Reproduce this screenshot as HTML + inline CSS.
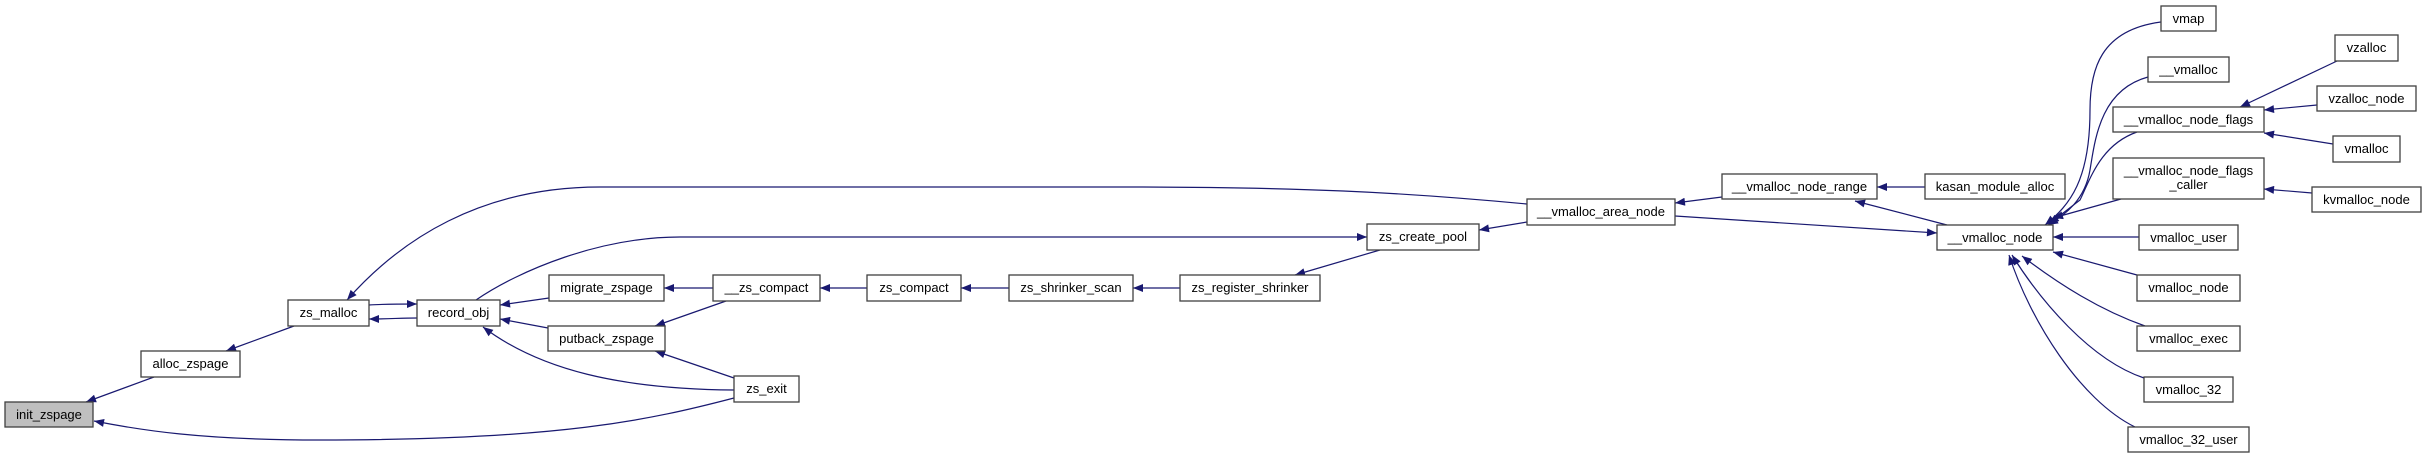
<!DOCTYPE html>
<html><head><meta charset="utf-8"><style>
html,body{margin:0;padding:0;background:#fff;}
svg{display:block;}
text{font-family:"Liberation Sans",Arial,sans-serif;font-size:13px;fill:#000;}
.n{fill:#fff;stroke:#404040;stroke-width:1.3;}
.e{fill:none;stroke:#191970;stroke-width:1.2;}
</style></head><body>
<svg width="2427" height="459" viewBox="0 0 2427 459" xmlns="http://www.w3.org/2000/svg">
<defs>
<marker id="a" viewBox="0 0 10 8" refX="10" refY="4" markerWidth="11" markerHeight="8" markerUnits="userSpaceOnUse" orient="auto">
<path d="M0,0 L10,4 L0,8 z" fill="#191970"/>
</marker>
</defs>
<g class="edges">
<path class="e" marker-end="url(#a)" d="M154,377 L86,402"/>
<path class="e" marker-end="url(#a)" d="M734,398 C650,420 560,440 320,440 C200,440 140,430 94,421"/>
<path class="e" marker-end="url(#a)" d="M294,326 L226,351"/>
<path class="e" marker-end="url(#a)" d="M1527,204 C1400,192 1300,187 1120,187 L600,187 C480,187 400,240 347,300"/>
<path class="e" marker-end="url(#a)" d="M369,305 C385,304 395,304 417,304"/>
<path class="e" marker-end="url(#a)" d="M417,318 C400,318 390,319 369,319"/>
<path class="e" marker-end="url(#a)" d="M476,300 C520,270 600,237 680,237 L1367,237"/>
<path class="e" marker-end="url(#a)" d="M549,298 L500,305"/>
<path class="e" marker-end="url(#a)" d="M548,328 L500,319"/>
<path class="e" marker-end="url(#a)" d="M734,390 C620,389 540,370 483,327"/>
<path class="e" marker-end="url(#a)" d="M713,288 L664,288"/>
<path class="e" marker-end="url(#a)" d="M726,301 L655,326"/>
<path class="e" marker-end="url(#a)" d="M734,378 L655,351"/>
<path class="e" marker-end="url(#a)" d="M867,288 L820,288"/>
<path class="e" marker-end="url(#a)" d="M1009,288 L961,288"/>
<path class="e" marker-end="url(#a)" d="M1180,288 L1133,288"/>
<path class="e" marker-end="url(#a)" d="M1380,250 L1295,275"/>
<path class="e" marker-end="url(#a)" d="M1527,222 L1479,230"/>
<path class="e" marker-end="url(#a)" d="M1722,197 L1675,203"/>
<path class="e" marker-end="url(#a)" d="M1675,216 L1937,233"/>
<path class="e" marker-end="url(#a)" d="M1925,187 L1877,187"/>
<path class="e" marker-end="url(#a)" d="M1947,225 L1855,201"/>
<path class="e" marker-end="url(#a)" d="M2161,22 C2100,30 2090,70 2090,110 C2090,180 2070,205 2045,225"/>
<path class="e" marker-end="url(#a)" d="M2148,77 C2100,90 2095,140 2090,170 C2085,200 2065,215 2048,225"/>
<path class="e" marker-end="url(#a)" d="M2137,132 C2100,145 2090,180 2080,200 L2049,224"/>
<path class="e" marker-end="url(#a)" d="M2121,199 L2053,218"/>
<path class="e" marker-end="url(#a)" d="M2139,237 L2053,237"/>
<path class="e" marker-end="url(#a)" d="M2137,275 L2053,252"/>
<path class="e" marker-end="url(#a)" d="M2145,326 C2100,310 2060,285 2022,256"/>
<path class="e" marker-end="url(#a)" d="M2144,378 C2090,360 2040,300 2012,255"/>
<path class="e" marker-end="url(#a)" d="M2135,427 C2080,400 2030,320 2009,255"/>
<path class="e" marker-end="url(#a)" d="M2337,61 L2240,107"/>
<path class="e" marker-end="url(#a)" d="M2317,105 L2264,110"/>
<path class="e" marker-end="url(#a)" d="M2333,144 L2264,133"/>
<path class="e" marker-end="url(#a)" d="M2312,193 L2264,189"/>
</g>
<g>
<rect x="5" y="402" width="88" height="25" style="fill:#bfbfbf;stroke:#404040;stroke-width:1.3"/><text x="49" y="419" text-anchor="middle">init_zspage</text>
<rect class="n" x="141" y="351" width="99" height="26"/><text x="190.5" y="368" text-anchor="middle">alloc_zspage</text>
<rect class="n" x="288" y="300" width="81" height="26"/><text x="328.5" y="317" text-anchor="middle">zs_malloc</text>
<rect class="n" x="417" y="300" width="83" height="26"/><text x="458.5" y="317" text-anchor="middle">record_obj</text>
<rect class="n" x="549" y="275" width="115" height="26"/><text x="606.5" y="292" text-anchor="middle">migrate_zspage</text>
<rect class="n" x="548" y="326" width="117" height="25"/><text x="606.5" y="343" text-anchor="middle">putback_zspage</text>
<rect class="n" x="713" y="275" width="107" height="26"/><text x="766.5" y="292" text-anchor="middle">__zs_compact</text>
<rect class="n" x="734" y="376" width="65" height="26"/><text x="766.5" y="393" text-anchor="middle">zs_exit</text>
<rect class="n" x="867" y="275" width="94" height="26"/><text x="914" y="292" text-anchor="middle">zs_compact</text>
<rect class="n" x="1009" y="275" width="124" height="26"/><text x="1071" y="292" text-anchor="middle">zs_shrinker_scan</text>
<rect class="n" x="1180" y="275" width="140" height="26"/><text x="1250" y="292" text-anchor="middle">zs_register_shrinker</text>
<rect class="n" x="1367" y="224" width="112" height="26"/><text x="1423" y="241" text-anchor="middle">zs_create_pool</text>
<rect class="n" x="1527" y="199" width="148" height="26"/><text x="1601" y="216" text-anchor="middle">__vmalloc_area_node</text>
<rect class="n" x="1722" y="174" width="155" height="25"/><text x="1799.5" y="191" text-anchor="middle">__vmalloc_node_range</text>
<rect class="n" x="1925" y="174" width="140" height="25"/><text x="1995" y="191" text-anchor="middle">kasan_module_alloc</text>
<rect class="n" x="1937" y="225" width="116" height="25"/><text x="1995" y="242" text-anchor="middle">__vmalloc_node</text>
<rect class="n" x="2161" y="6" width="55" height="25"/><text x="2188.5" y="23" text-anchor="middle">vmap</text>
<rect class="n" x="2148" y="57" width="81" height="25"/><text x="2188.5" y="74" text-anchor="middle">__vmalloc</text>
<rect class="n" x="2113" y="107" width="151" height="25"/><text x="2188.5" y="124" text-anchor="middle">__vmalloc_node_flags</text>
<rect class="n" x="2113" y="158" width="151" height="41"/><text x="2188.5" y="175" text-anchor="middle">__vmalloc_node_flags</text><text x="2188.5" y="189" text-anchor="middle">_caller</text>
<rect class="n" x="2139" y="225" width="99" height="25"/><text x="2188.5" y="242" text-anchor="middle">vmalloc_user</text>
<rect class="n" x="2137" y="275" width="103" height="26"/><text x="2188.5" y="292" text-anchor="middle">vmalloc_node</text>
<rect class="n" x="2137" y="326" width="103" height="25"/><text x="2188.5" y="343" text-anchor="middle">vmalloc_exec</text>
<rect class="n" x="2144" y="377" width="89" height="25"/><text x="2188.5" y="394" text-anchor="middle">vmalloc_32</text>
<rect class="n" x="2128" y="427" width="121" height="25"/><text x="2188.5" y="444" text-anchor="middle">vmalloc_32_user</text>
<rect class="n" x="2335" y="35" width="63" height="26"/><text x="2366.5" y="52" text-anchor="middle">vzalloc</text>
<rect class="n" x="2317" y="86" width="99" height="25"/><text x="2366.5" y="103" text-anchor="middle">vzalloc_node</text>
<rect class="n" x="2333" y="136" width="67" height="26"/><text x="2366.5" y="153" text-anchor="middle">vmalloc</text>
<rect class="n" x="2312" y="187" width="109" height="25"/><text x="2366.5" y="204" text-anchor="middle">kvmalloc_node</text>
</g>
</svg>
</body></html>
